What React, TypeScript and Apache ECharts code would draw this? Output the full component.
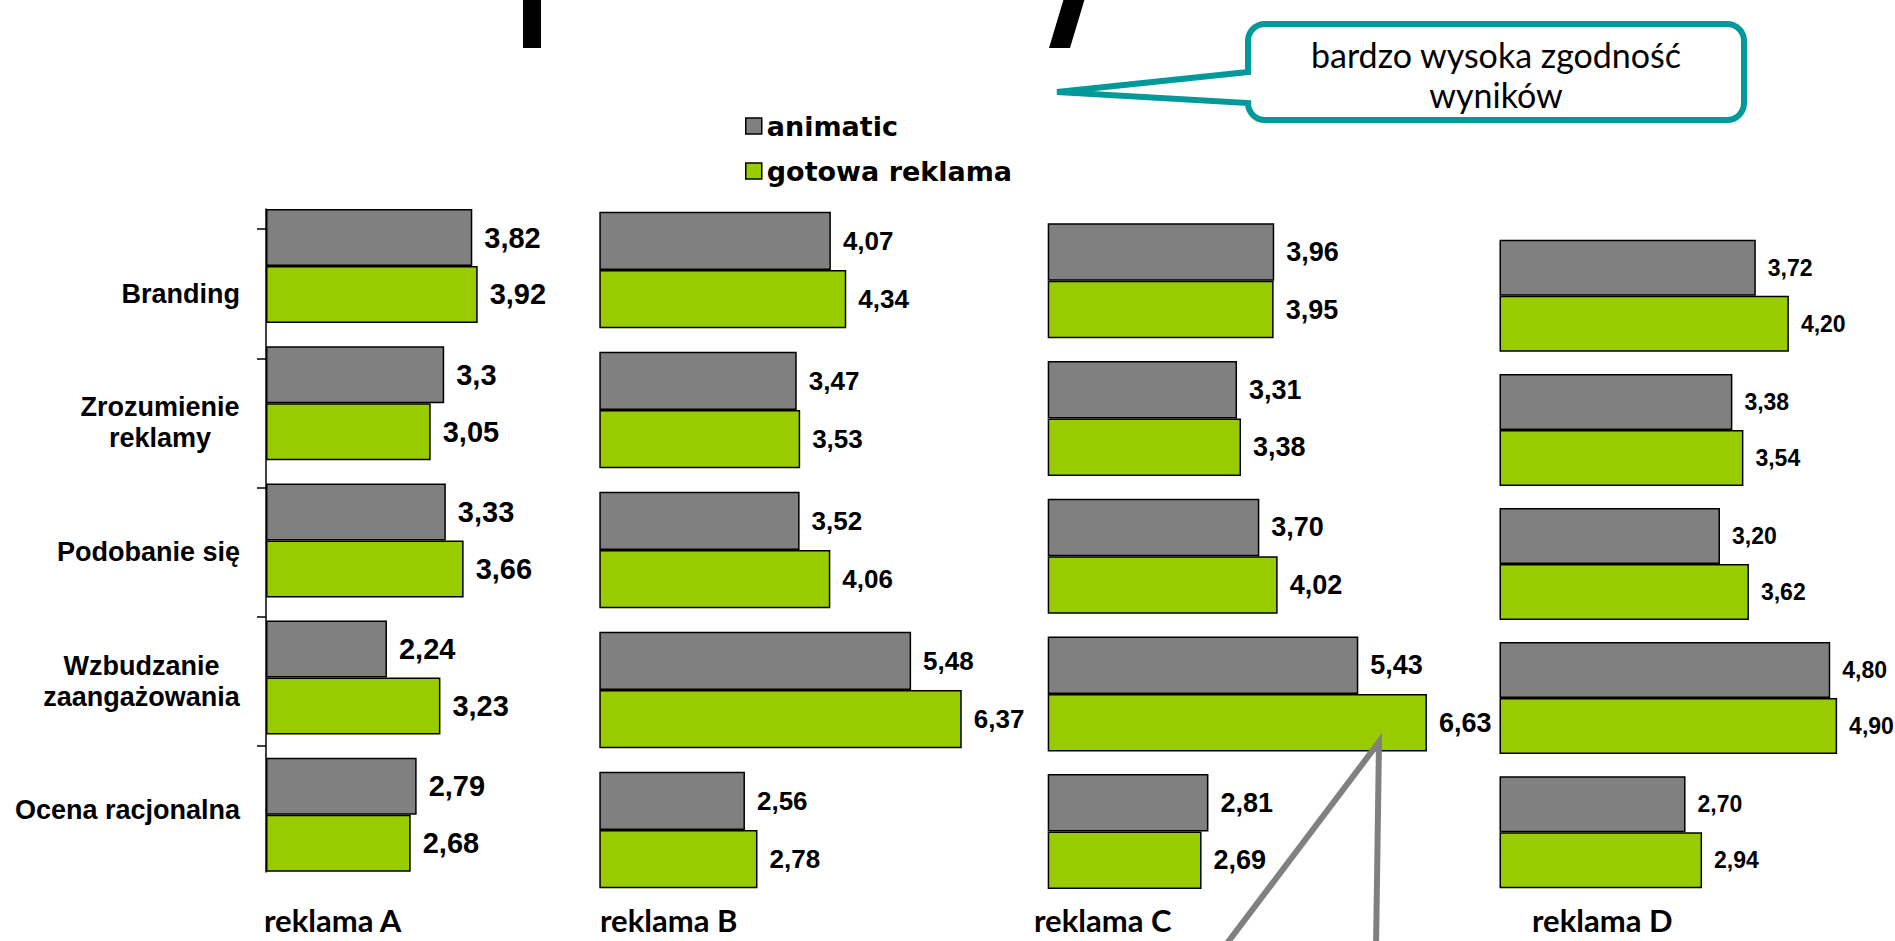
import React, { useEffect, useRef } from "react";
import * as echarts from "echarts";

// ---- data -----------------------------------------------------------------
const categories = [
  "Branding",
  "Zrozumienie\nreklamy",
  "Podobanie się",
  "Wzbudzanie\nzaangażowania",
  "Ocena racjonalna",
];
const seriesNames = ["animatic", "gotowa reklama"];
const panelTitles = ["reklama A", "reklama B", "reklama C", "reklama D"];

const animaticA = [3.82, 3.3, 3.33, 2.24, 2.79];
const gotowaA = [3.92, 3.05, 3.66, 3.23, 2.68];
const animaticB = [4.07, 3.47, 3.52, 5.48, 2.56];
const gotowaB = [4.34, 3.53, 4.06, 6.37, 2.78];
const animaticC = [3.96, 3.31, 3.7, 5.43, 2.81];
const gotowaC = [3.95, 3.38, 4.02, 6.63, 2.69];
const animaticD = [3.72, 3.38, 3.2, 4.8, 2.7];
const gotowaD = [4.2, 3.54, 3.62, 4.9, 2.94];

const calloutText = ["bardzo wysoka zgodność", "wyników"];

// ---- styling / layout -----------------------------------------------------
const GREY = "#808080";
const GREEN = "#99cc00";
const TEAL = "#009999";
const SANS = "'Liberation Sans', Arial, sans-serif";

// each small multiple: origin x, px per unit, value-axis max, first group top, group step, group height
const panels = [
  { title: panelTitles[0], animatic: animaticA, gotowa: gotowaA, left: 266, unit: 54.0, max: 7, top: 209, step: 137.2, group: 114, size: 29, digits: -1, titleX: 264 },
  { title: panelTitles[1], animatic: animaticB, gotowa: gotowaB, left: 599.3, unit: 56.9, max: 7, top: 211.7, step: 140, group: 116.5, size: 26, digits: 2, titleX: 600 },
  { title: panelTitles[2], animatic: animaticC, gotowa: gotowaC, left: 1047.7, unit: 57.2, max: 7, top: 223.3, step: 137.7, group: 115, size: 27, digits: 2, titleX: 1034 },
  { title: panelTitles[3], animatic: animaticD, gotowa: gotowaD, left: 1499.5, unit: 68.9, max: 5.5, top: 239.8, step: 134.1, group: 112, size: 23, digits: 2, titleX: 1532 },
];

// callout box outline (rounded box with a pointer to the left)
const BOX = { l: 1248, t: 24, r: 1744, b: 120, rad: 17, tailTop: 72, tailBottom: 103, tipX: 1057, tipY: 92 };
const calloutPath =
  `M${BOX.l},${BOX.tailTop} L${BOX.l},${BOX.t + BOX.rad} A${BOX.rad},${BOX.rad} 0 0 1 ${BOX.l + BOX.rad},${BOX.t} ` +
  `L${BOX.r - BOX.rad},${BOX.t} A${BOX.rad},${BOX.rad} 0 0 1 ${BOX.r},${BOX.t + BOX.rad} ` +
  `L${BOX.r},${BOX.b - BOX.rad} A${BOX.rad},${BOX.rad} 0 0 1 ${BOX.r - BOX.rad},${BOX.b} ` +
  `L${BOX.l + BOX.rad},${BOX.b} A${BOX.rad},${BOX.rad} 0 0 1 ${BOX.l},${BOX.b - BOX.rad} ` +
  `L${BOX.l},${BOX.tailBottom} L${BOX.tipX},${BOX.tipY} Z`;
echarts.graphic.registerShape("calloutBox", echarts.graphic.extendPath(calloutPath, {}));

const CAT_SIZE = 27;

function formatValue(v: number, digits: number): string {
  const s = digits < 0 ? String(v) : v.toFixed(digits);
  return s.replace(".", ",");
}

function measure(text: string): number {
  const ctx = document.createElement("canvas").getContext("2d");
  if (!ctx) return text.length * CAT_SIZE * 0.6;
  ctx.font = `bold ${CAT_SIZE}px ${SANS}`;
  return ctx.measureText(text).width;
}

function buildOption() {
  const grid: any[] = [];
  const xAxis: any[] = [];
  const yAxis: any[] = [];
  const series: any[] = [];

  panels.forEach((p, i) => {
    const gap = p.step - p.group;
    grid.push({
      left: p.left,
      top: p.top - gap / 2,
      width: p.max * p.unit,
      height: p.step * categories.length,
      outerBoundsMode: "none",
    });
    xAxis.push({ type: "value", gridIndex: i, min: 0, max: p.max, show: false });
    yAxis.push({ type: "category", gridIndex: i, data: categories, inverse: true, show: false });
    const catGap = ((gap / p.step) * 100).toFixed(2) + "%";
    [p.animatic, p.gotowa].forEach((vals, k) => {
      series.push({
        type: "bar",
        name: seriesNames[k],
        xAxisIndex: i,
        yAxisIndex: i,
        data: vals,
        barGap: "0%",
        barCategoryGap: catGap,
        itemStyle: { color: k === 0 ? GREY : GREEN, borderColor: "#000", borderWidth: 1.5 },
        label: {
          show: true,
          position: "right",
          distance: 12,
          color: "#000",
          fontWeight: "bold",
          fontFamily: SANS,
          fontSize: p.size,
          formatter: (prm: any) => formatValue(prm.value, p.digits),
        },
        emphasis: { disabled: true },
      });
    });
  });

  // category captions of the first panel (two-line captions centred within their block)
  const rich: any = {};
  categories.forEach((c, idx) => {
    const lines = c.split("\n");
    if (lines.length > 1) {
      rich["c" + idx] = {
        width: Math.ceil(Math.max(...lines.map(measure))),
        align: "center",
        fontFamily: SANS,
        fontSize: CAT_SIZE,
        fontWeight: "bold",
        color: "#000",
        lineHeight: 31,
      };
    }
  });
  grid.push({ left: 266, top: 229, width: 100, height: 646, outerBoundsMode: "none" });
  xAxis.push({ type: "value", gridIndex: 4, show: false, min: 0, max: 1 });
  yAxis.push({
    type: "category",
    gridIndex: 4,
    data: categories,
    inverse: true,
    axisLine: { show: false },
    axisTick: { show: false },
    axisLabel: {
      show: true,
      margin: 26,
      color: "#000",
      fontFamily: SANS,
      fontSize: CAT_SIZE,
      fontWeight: "bold",
      lineHeight: 31,
      rich,
      formatter: (value: string, idx: number) => {
        const lines = value.split("\n");
        if (lines.length === 1) return value;
        return lines.map((l) => `{c${idx}|${l}}`).join("\n");
      },
    },
  });
  // axis line of the first panel, spanning its bars
  grid.push({ left: 266, top: 209, width: 100, height: 663, outerBoundsMode: "none" });
  xAxis.push({ type: "value", gridIndex: 5, show: false, min: 0, max: 1 });
  yAxis.push({
    type: "category",
    gridIndex: 5,
    data: categories,
    inverse: true,
    axisLine: { show: true, lineStyle: { color: "#000", width: 1.5 } },
    axisTick: { show: false },
    axisLabel: { show: false },
  });
  // tick marks of the first panel: one above each caption band
  grid.push({ left: 266, top: 229, width: 100, height: 517, outerBoundsMode: "none" });
  xAxis.push({ type: "value", gridIndex: 6, show: false, min: 0, max: 1 });
  yAxis.push({
    type: "value",
    gridIndex: 6,
    min: 0,
    max: categories.length - 1,
    interval: 1,
    inverse: true,
    axisLine: { show: false },
    axisTick: { show: true, length: 9, lineStyle: { color: "#000", width: 1.5 } },
    axisLabel: { show: false },
    splitLine: { show: false },
  });

  const graphic: any[] = [
    // lower edges of the slide heading, cut by the top of the page
    { type: "rect", shape: { x: 523, y: -2, width: 18, height: 50 }, style: { fill: "#000" }, z: 50 },
    { type: "polygon", shape: { points: [[1064, -2], [1085, -2], [1070, 48], [1049, 48]] }, style: { fill: "#000" }, z: 50 },
    // speech bubble
    { type: "calloutBox", x: 0, y: 0, style: { fill: "#fff", stroke: TEAL, lineWidth: 6 }, z: 60 },
    {
      type: "text",
      x: (BOX.l + BOX.r) / 2,
      y: 74,
      z: 61,
      style: {
        text: calloutText.join("\n"),
        align: "center",
        verticalAlign: "middle",
        fontFamily: "Lato, 'Open Sans', sans-serif",
        fontSize: 34,
        lineHeight: 40,
        fill: "#000",
      },
    },
    // grey pointer from a note below the page
    {
      type: "polyline",
      shape: { points: [[1222, 950], [1379, 742], [1376, 950]] },
      style: { stroke: GREY, lineWidth: 6, fill: "none" },
      z: 70,
    },
  ];
  panels.forEach((p) => {
    graphic.push({
      type: "text",
      x: p.titleX,
      y: 920,
      z: 40,
      style: {
        text: p.title,
        align: "left",
        verticalAlign: "middle",
        fontFamily: "Lato, 'Open Sans', sans-serif",
        fontWeight: "bold",
        fontSize: 31,
        fill: "#000",
      },
    });
  });

  return {
    animation: false,
    backgroundColor: "#ffffff",
    legend: {
      data: seriesNames,
      orient: "vertical",
      left: 740,
      top: 106,
      icon: "rect",
      itemWidth: 16,
      itemHeight: 16,
      itemGap: 15,
      itemStyle: { borderColor: "#000", borderWidth: 1.5 },
      textStyle: { color: "#000", fontFamily: "'DejaVu Sans', sans-serif", fontWeight: "bold", fontSize: 27, lineHeight: 30 },
      selectedMode: false,
    },
    grid,
    xAxis,
    yAxis,
    series,
    graphic,
  };
}

export default function App() {
  const ref = useRef<HTMLDivElement>(null);
  useEffect(() => {
    if (!ref.current) return;
    const chart = echarts.init(ref.current, null, { renderer: "svg" });
    chart.setOption(buildOption() as any);
    return () => chart.dispose();
  }, []);
  return (
    <div
      ref={ref}
      style={{ position: "fixed", left: 0, top: 0, width: 1895, height: 941, background: "#fff" }}
    />
  );
}
